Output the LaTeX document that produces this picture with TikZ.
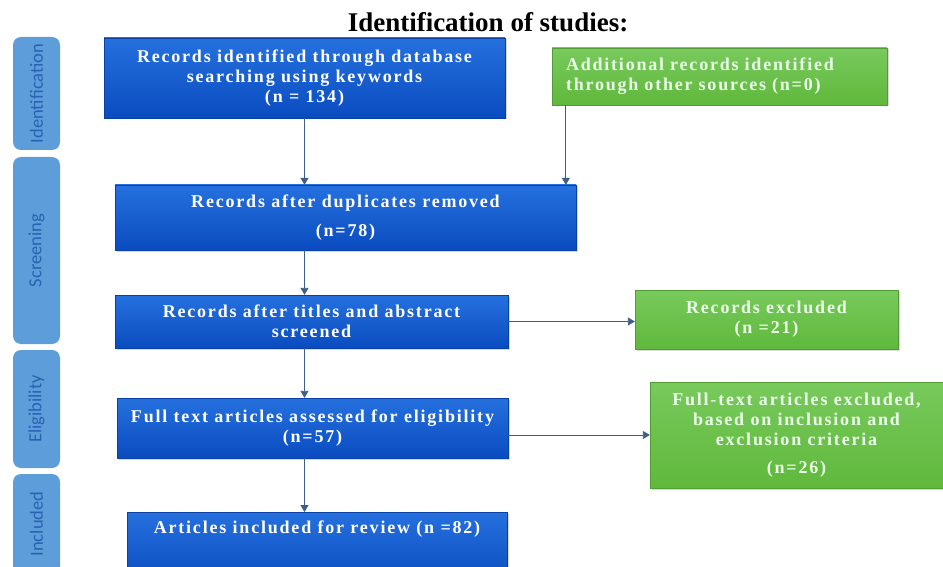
\documentclass[tikz,border=0pt]{standalone}
\usepackage{fontspec}
\setmainfont{Liberation Serif}
\newfontfamily\boxfont[LetterSpace=10]{Liberation Serif}
\newfontfamily\phasefont{Carlito}
\usetikzlibrary{arrows.meta, shadows}

\definecolor{phaseblue}{RGB}{93,157,218}
\definecolor{phasetext}{RGB}{42,98,178}
\definecolor{boxtop}{RGB}{38,112,222}
\definecolor{boxbot}{RGB}{10,76,192}
\definecolor{greentop}{RGB}{120,202,92}
\definecolor{greenbot}{RGB}{96,184,60}
\definecolor{arrowcol}{RGB}{62,94,138}

\tikzset{
  bluebox/.style={draw=boxbot!85!black, line width=0.3pt, top color=boxtop, bottom color=boxbot,
    text=white, align=center, inner sep=4pt,
    font=\boxfont\bfseries\fontsize{18}{20}\selectfont,
    drop shadow={opacity=0.3, shadow xshift=1.5pt, shadow yshift=-1.5pt}},
  greenbox/.style={bluebox, draw=greenbot!85!black, top color=greentop, bottom color=greenbot,
    text=white!92!green},
  phase/.style={fill=phaseblue, rounded corners=8pt, rotate=90, minimum height=47pt,
    text=phasetext, font=\phasefont\fontsize{18.5}{22}\selectfont},
  arr/.style={draw=arrowcol, line width=0.8pt, -{Triangle[width=8pt,length=7pt]}}
}

\begin{document}
\begin{tikzpicture}[x=1pt, y=-1pt]

    % 1. Rahmen
    \useasboundingbox (0,0) rectangle (943,567);
    \clip (0,0) rectangle (943,567);

    % 2. Titel
    \node (titel) at (488,22) {\fontsize{27}{30}\selectfont\bfseries Identification of studies:};

    % 3. Phasen links
    \node[phase, minimum width=113pt] (ident) at (36.5,93.5) {Identification};
    \node[phase, minimum width=187pt] (screen) at (36.5,250.5) {Screening};
    \node[phase, minimum width=118pt] (elig) at (36.5,409) {Eligibility};
    \node[phase, minimum width=100pt] (incl) at (36.5,524) {Included};

    % 4. Kaesten
    \node[bluebox, minimum width=401pt, minimum height=80pt] (rec) at (304.5,78)
      {Records identified through database\\searching using keywords\\(n = 134)};
    \node[greenbox, minimum width=335pt, minimum height=57pt, text width=307pt, align=left] (add) at (719.5,76.5)
      {Additional records identified\\through other sources (n=0)};
    \node[bluebox, minimum width=461pt, minimum height=65pt] (dup) at (345.5,217.5)
      {Records after duplicates removed\\[9pt](n=78)};
    \node[bluebox, minimum width=393pt, minimum height=53pt] (scr) at (311.5,321.5)
      {Records after titles and abstract\\screened};
    \node[bluebox, minimum width=391pt, minimum height=60pt] (full) at (312.5,428)
      {Full text articles assessed for eligibility\\(n=57)};
    \node[bluebox, minimum width=380pt, anchor=north, inner ysep=9pt, text depth=40pt] (art) at (317,512)
      {Articles included for review (n =82)};
    \node[greenbox, minimum width=263pt, minimum height=59pt] (exc) at (766.5,319.5)
      {Records excluded\\(n =21)};
    \node[greenbox, minimum width=293pt, minimum height=106pt] (ftx) at (796.5,435)
      {Full-text articles excluded,\\based on inclusion and\\exclusion criteria\\[8pt](n=26)};

    % 5. Pfeile
    \coordinate (addfoot) at ([xshift=14pt]add.south west);
    \draw[arr] (rec.south) -- (rec.south |- dup.north);
    \draw[arr] (addfoot) -- (addfoot |- dup.north);
    \draw[arr] (dup.south -| rec.south) -- (scr.north -| rec.south);
    \draw[arr] (scr.south -| rec.south) -- (full.north -| rec.south);
    \draw[arr] (full.south -| rec.south) -- (art.north -| rec.south);
    \draw[arr] (scr.east) -- (scr.east -| exc.west);
    \draw[arr] (ftx.west -| full.east) -- (ftx.west);

\end{tikzpicture}
\end{document}
